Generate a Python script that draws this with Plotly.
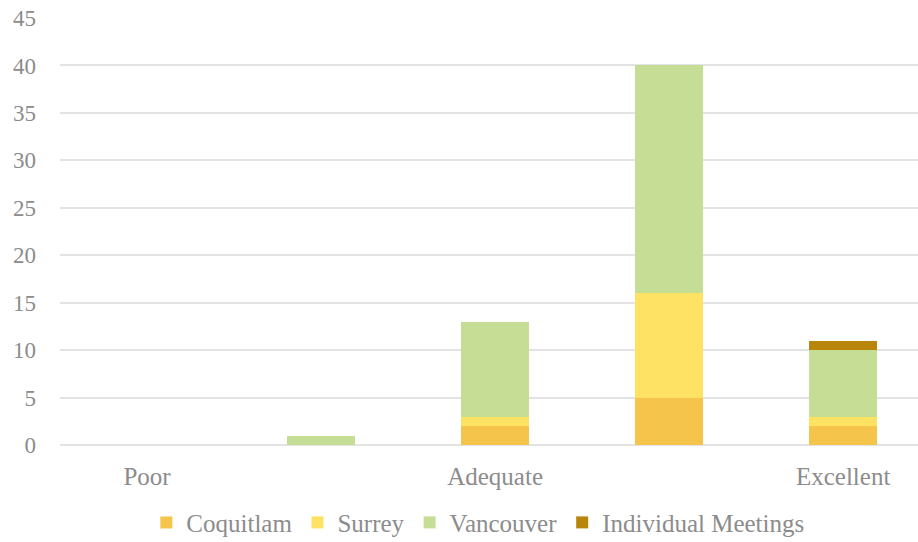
import plotly.graph_objects as go

categories = ["Poor", "", "Adequate", "", "Excellent"]
coquitlam = [0, 0, 2, 5, 2]
surrey = [0, 0, 1, 11, 1]
vancouver = [0, 1, 10, 24, 7]
individual = [0, 0, 0, 0, 1]
y_ticks = [0, 5, 10, 15, 20, 25, 30, 35, 40, 45]

series = [
    ("Coquitlam", coquitlam, "#F5C54B"),
    ("Surrey", surrey, "#FDE264"),
    ("Vancouver", vancouver, "#C5DD94"),
    ("Individual Meetings", individual, "#B8860B"),
]

FONT = "Liberation Serif"
TEXT = "#8C8C8C"

x = list(range(len(categories)))
fig = go.Figure()
for name, vals, color in series:
    fig.add_trace(go.Bar(x=x, y=vals, name=name, marker_color=color,
                         marker_line_width=0, width=0.39))

fig.update_layout(
    barmode="stack",
    width=918, height=542,
    margin=dict(l=60, r=0, t=18, b=97, autoexpand=False),
    paper_bgcolor="white", plot_bgcolor="white",
    font=dict(family=FONT, size=24, color=TEXT),
    legend=dict(orientation="h", x=0.487, xanchor="center", y=-0.128, yanchor="top",
                font=dict(size=25, color=TEXT), itemwidth=30, traceorder="normal"),
    xaxis=dict(tickmode="array", tickvals=x, ticktext=categories,
               range=[-0.5, 4.43], showgrid=False, zeroline=False,
               showline=False, ticks="", ticklabelstandoff=14,
               tickfont=dict(size=25, color=TEXT)),
    yaxis=dict(range=[0, 45], tickvals=y_ticks, showgrid=True,
               gridcolor="#E3E3E3", gridwidth=1.5, zeroline=True,
               zerolinecolor="#E3E3E3", zerolinewidth=1.5,
               ticks="", ticklabelstandoff=23, tickfont=dict(size=23, color=TEXT)),
)

fig.write_html("out.html")
